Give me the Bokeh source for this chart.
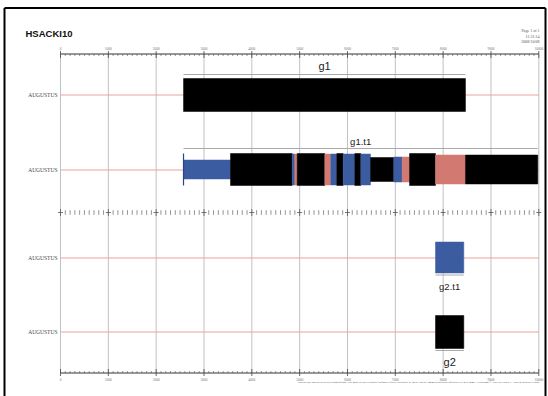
import math
from bokeh.plotting import figure
from bokeh.models import Range1d, ColumnDataSource
from bokeh.core.properties import value
from bokeh.embed import file_html
from bokeh.resources import INLINE

# ---------------- data ----------------
seq_name = "HSACKI10"
source_name = "AUGUSTUS"
page_info = ["Page 1 of 1", "11:31:14", "2008/10/08"]
footer = ("This picture has been created using gff2ps. The most recent version of gff2ps is freely available at "
          "\"http://www1.imim.es/software/gfftools/GFF2PS.html\". Copyright \u00a9 1999 by Josep F. Abril & Roderic Guig\u00f3")

seq_length = 10000
tick_positions = [0, 1000, 2000, 3000, 4000, 5000, 6000, 7000, 8000, 9000, 10000]
tick_labels = ["0", "1000", "2000", "3000", "4000", "5000", "6000", "7000", "8000", "9000", "10000"]
minor_step = 100

gene_names = ["g1", "g2"]
gene_starts = [2572, 7840]
gene_ends = [8467, 8432]
gene_strands = ["+", "-"]

transcript_names = ["g1.t1", "g2.t1"]
transcript_strands = ["+", "-"]

g1t1_starts = [2572, 3554, 4844, 4899, 4949, 5526, 5651, 5777, 5911, 6153, 6279, 6481, 6968, 7144, 7297, 7840, 8467]
g1t1_ends   = [3554, 4844, 4899, 4949, 5526, 5651, 5777, 5911, 6153, 6279, 6481, 6968, 7144, 7297, 7840, 8467, 9979]
g1t1_kinds  = ["utr", "exon", "cds", "acc", "exon", "acc", "cds", "exon", "cds", "exon", "cds",
               "exon_mid", "cds_mid", "acc_mid", "exon", "acc_last", "exon_last"]

g2t1_starts = [7840]
g2t1_ends = [8432]
g2t1_kinds = ["cds"]

# ---------------- styles / layout ----------------
BLUE = "#3C5CA2"
RED = "#D27A72"
kind_style = {
    "utr": (BLUE, 19), "exon": ("#000000", 32), "cds": (BLUE, 31),
    "acc": (RED, 31), "exon_mid": ("#000000", 24), "cds_mid": (BLUE, 25),
    "acc_mid": (RED, 25), "acc_last": (RED, 29), "exon_last": ("#000000", 29),
}
GENE_H = 33

# track centres (screen px) : forward tracks above middle ruler, reverse below
track_gene = {"+": 94.5, "-": 331.5}
track_tx = {"+": 169, "-": 257}
TOP_RULER, MID_RULER, BOT_RULER = 53.5, 212, 372.5

PX0, PX1 = 60.0, 538.3
scale = (PX1 - PX0) / seq_length
OFF = 0
W, H = 548, 396
x_start = -(PX0 - OFF) / scale
x_end = x_start + W / scale


def sx(px):
    return (px - PX0) / scale


p = figure(width=W, height=H, output_backend="svg", toolbar_location=None,
           x_range=Range1d(x_start, x_end), y_range=Range1d(OFF + H, OFF),
           min_border=0, outline_line_color=None)
p.axis.visible = False
p.grid.visible = False
p.background_fill_color = "white"
p.border_fill_color = "white"

# page border (left, top, right)
p.segment(x0=[sx(4), sx(4), sx(545)], y0=[400, 7.5, 7.5], x1=[sx(4), sx(545), sx(545)], y1=[7.5, 7.5, 400],
          line_color="black", line_width=2)

# vertical grid lines
p.segment(x0=tick_positions, x1=tick_positions, y0=[TOP_RULER] * len(tick_positions),
          y1=[BOT_RULER] * len(tick_positions), line_color="#C0C0C8", line_width=1)

# red row lines
rows = [track_gene["+"], track_tx["+"], track_tx["-"], track_gene["-"]]
row_lines = [math.floor(r) + 0.5 for r in rows]
p.segment(x0=[0] * 4, x1=[seq_length] * 4, y0=row_lines, y1=row_lines, line_color="#EBA29C", line_width=1)

# source labels
p.text(x=[sx(57)] * 4, y=rows, text=[source_name] * 4, text_align="right", text_baseline="middle",
       text_font=value("Liberation Serif"), text_font_size="5.5px", text_color="#444444")

# rulers
minor = list(range(0, seq_length + 1, minor_step))
minor_only = [m for m in minor if m not in tick_positions]
for yr, d in ((TOP_RULER, 1), (BOT_RULER, -1)):
    p.segment(x0=[0], x1=[seq_length], y0=[yr], y1=[yr], line_color="#333333", line_width=1)
    p.segment(x0=minor_only, x1=minor_only, y0=[yr] * len(minor_only),
              y1=[yr + 2 * d] * len(minor_only), line_color="#555555", line_width=0.6)
    p.segment(x0=tick_positions, x1=tick_positions, y0=[yr - 3 * d] * len(tick_positions),
              y1=[yr + 4 * d] * len(tick_positions), line_color="#444444", line_width=0.8)
    p.text(x=tick_positions, y=[yr - 6 * d if d == 1 else yr + 6] * len(tick_positions), text=tick_labels,
           text_align="center", text_baseline="middle", text_font=value("Liberation Serif"),
           text_font_size="3.5px", text_color="#777777")

# middle ruler
p.segment(x0=minor_only, x1=minor_only, y0=[MID_RULER - 2.3] * len(minor_only),
          y1=[MID_RULER + 2.3] * len(minor_only), line_color="#666666", line_width=0.7)
p.segment(x0=tick_positions, x1=tick_positions, y0=[MID_RULER - 3.5] * len(tick_positions),
          y1=[MID_RULER + 3.5] * len(tick_positions), line_color="#555555", line_width=0.8)
half = 2.5 / scale
p.segment(x0=[t - half for t in tick_positions], x1=[t + half for t in tick_positions],
          y0=[MID_RULER] * len(tick_positions), y1=[MID_RULER] * len(tick_positions),
          line_color="#555555", line_width=0.8)

# genes
for name, s, e, strand in zip(gene_names, gene_starts, gene_ends, gene_strands):
    yc = track_gene[strand]
    p.quad(left=[s], right=[e], top=[yc - GENE_H / 2], bottom=[yc + GENE_H / 2],
           fill_color="black", line_color="black", line_width=0.5)
    if strand == "+":
        ly, ty = yc - GENE_H / 2 - 4, yc - GENE_H / 2 - 12.5
    else:
        ly, ty = yc + GENE_H / 2 + 2, yc + GENE_H / 2 + 13
    p.segment(x0=[s], x1=[e], y0=[ly], y1=[ly], line_color="#AAAAAA", line_width=1)
    p.text(x=[(s + e) / 2], y=[ty], text=[name], text_align="center", text_baseline="middle",
           text_font=value("Liberation Sans"), text_font_size="11px", text_color="#222222")

# transcripts
tx_segments = [(g1t1_starts, g1t1_ends, g1t1_kinds), (g2t1_starts, g2t1_ends, g2t1_kinds)]
for name, strand, (ss, es, ks) in zip(transcript_names, transcript_strands, tx_segments):
    yc = track_tx[strand]
    cols = [kind_style[k][0] for k in ks]
    hs = [kind_style[k][1] for k in ks]
    src = ColumnDataSource(dict(left=ss, right=es, top=[yc - h / 2 for h in hs],
                                bottom=[yc + h / 2 for h in hs], color=cols))
    p.quad(left="left", right="right", top="top", bottom="bottom", fill_color="color",
           line_color="color", line_width=0.5, source=src)
    s, e = min(ss), max(es)
    full = max(hs)
    if strand == "+":
        p.segment(x0=[s], x1=[s], y0=[yc - full / 2], y1=[yc + full / 2], line_color="#2A4488", line_width=1.2)
        ly, ty = yc - full / 2 - 5, yc - full / 2 - 12
    else:
        ly, ty = yc + full / 2 + 2, yc + full / 2 + 13
    p.segment(x0=[s], x1=[e], y0=[ly], y1=[ly], line_color="#AAAAAA", line_width=1)
    p.text(x=[(s + e) / 2], y=[ty], text=[name], text_align="center", text_baseline="middle",
           text_font=value("Liberation Sans"), text_font_size="9.5px", text_color="#222222")

# title and page info
p.text(x=[sx(25)], y=[33], text=[seq_name], text_align="left", text_baseline="middle",
       text_font=value("Liberation Sans"), text_font_size="9.5px", text_font_style="bold", text_color="#111111")
p.text(x=[sx(539)] * 3, y=[30, 35.5, 41], text=page_info, text_align="right", text_baseline="middle",
       text_font=value("Liberation Serif"), text_font_size="4px", text_color="#555555")
p.text(x=[sx(539)], y=[381], text=[footer], text_align="right", text_baseline="middle",
       text_font=value("Liberation Serif"), text_font_size="2.9px", text_color="#444444")

open("out.html", "w").write(file_html(p, INLINE))
